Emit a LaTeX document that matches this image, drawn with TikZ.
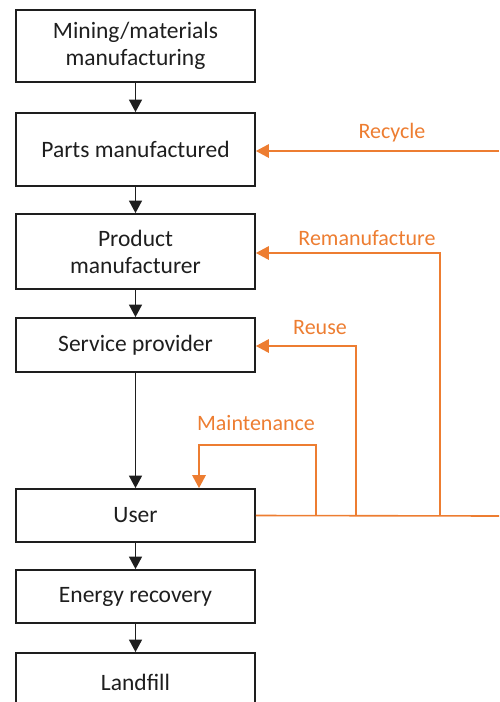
\documentclass[tikz,border=0pt]{standalone}
\usepackage{fontspec}
\setmainfont{Carlito}
\usetikzlibrary{arrows.meta}
\definecolor{flow}{RGB}{237,125,49}
\definecolor{ink}{RGB}{30,30,30}
\begin{document}
\begin{tikzpicture}[x=1pt,y=-1pt,
  stage/.style={draw=ink, line width=1.8pt, minimum width=239pt, inner sep=0pt,
    align=center, text=ink, font=\fontsize{23.5}{27}\selectfont},
  down/.style={draw=ink, line width=1.4pt, -{Triangle[width=13pt,length=12.5pt]}},
  loop/.style={draw=flow, line width=1.6pt},
  loopin/.style={loop, -{Triangle[width=13.5pt,length=13pt]}},
  tag/.style={text=flow, font=\fontsize{22}{26}\selectfont, inner sep=0pt}]
\useasboundingbox (0,0) rectangle (499,702);
\clip (0,0) rectangle (499,702);

% life-cycle stages
\node[stage, minimum height=72pt] (mine)   at (135.5,46)    {Mining/materials\\manufacturing};
\node[stage, minimum height=73pt] (parts)  at (135.5,149.5) {Parts manufactured};
\node[stage, minimum height=75pt] (prod)   at (135.5,251.5) {Product\\manufacturer};
\node[stage, minimum height=54pt] (serv)   at (135.5,345)   {Service provider};
\node[stage, minimum height=53pt] (user)   at (135.5,515.5) {User};
\node[stage, minimum height=53pt] (energy) at (135.5,596.5) {Energy recovery};
\node[stage, minimum height=58pt] (land)   at (135.5,682)   {Landfill};

% forward flow
\draw[down] (mine.south)   -- (parts.north);
\draw[down] (parts.south)  -- (prod.north);
\draw[down] (prod.south)   -- (serv.north);
\draw[down] (serv.south)   -- (user.north);
\draw[down] (user.south)   -- (energy.north);
\draw[down] (energy.south) -- (land.north);

% return loops
\coordinate (feed) at (499,516);
\draw[loop] (user.east) -- (feed);

\coordinate (rcIn) at (499,151);
\draw[loopin] (rcIn) -- (rcIn -| parts.east);
\node[tag] (rcTag) at (392,133) {Recycle};

\coordinate (rmFoot) at (440,516);
\coordinate (rmTop)  at (440,253);
\draw[loopin] (rmFoot) -- (rmTop) -- (rmTop -| prod.east);
\node[tag] (rmTag) at (367,238) {Remanufacture};

\coordinate (ruFoot) at (356,516);
\coordinate (ruTop)  at (356,346);
\draw[loopin] (ruFoot) -- (ruTop) -- (ruTop -| serv.east);
\node[tag] (ruTag) at (320,328) {Reuse};

\coordinate (mtFoot)  at (316,516);
\coordinate (mtTop)   at (316,445);
\coordinate (mtCorner) at (199,445);
\draw[loopin] (mtFoot) -- (mtTop) -- (mtCorner) -- (mtCorner |- user.north);
\node[tag] (mtTag) at (256,423) {Maintenance};
\end{tikzpicture}
\end{document}
